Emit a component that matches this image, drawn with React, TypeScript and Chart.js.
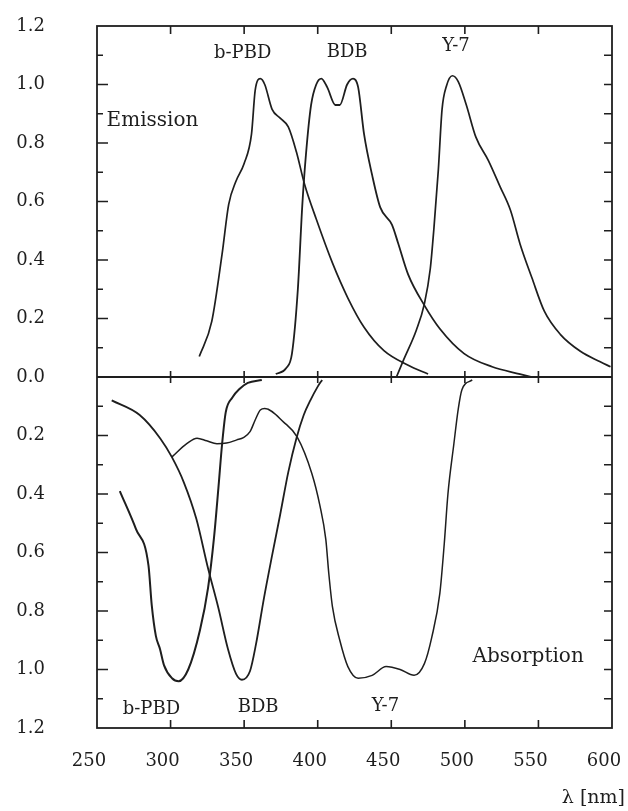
import React, { useEffect, useRef } from 'react';
import { Chart, registerables } from 'chart.js';

Chart.register(...registerables);

// Axis ranges
const X_MIN = 250;
const X_MAX = 600;
const X_STEP = 50;
const Y_MIN = -1.2;
const Y_MAX = 1.2;
const Y_STEP = 0.2;

// Emission spectra (positive, upper half)
const bpbdEmNm = [319.5, 328, 335, 339.5, 344.5, 350, 355, 357.5, 361, 364, 369, 374.5, 380, 385.5, 391, 399, 410, 420.5, 431.5, 445, 461.5, 475];
const bpbdEm = [0.07, 0.19, 0.42, 0.59, 0.67, 0.73, 0.83, 0.98, 1.02, 1.0, 0.915, 0.885, 0.855, 0.77, 0.66, 0.54, 0.39, 0.27, 0.17, 0.09, 0.04, 0.01];

const bdbEmNm = [371.5, 378.5, 382.5, 386.5, 389.5, 392, 395.5, 399, 402.5, 406.5, 412, 415, 420, 424, 427.5, 431.5, 437, 442.5, 450.5, 454.5, 461.5, 472.5, 483, 499.5, 518.5, 537.5, 545.5];
const bdbEm = [0.01, 0.03, 0.08, 0.3, 0.585, 0.76, 0.93, 1.0, 1.02, 0.99, 0.93, 0.93, 1.0, 1.02, 0.99, 0.83, 0.69, 0.58, 0.52, 0.46, 0.35, 0.245, 0.165, 0.08, 0.035, 0.01, 0.0];

const y7EmNm = [453.5, 458.5, 467, 472.5, 476.5, 479, 482, 484.5, 487.5, 491.5, 495.5, 501, 507.5, 516, 524, 531, 537.5, 545.5, 554, 565, 578.5, 592, 599];
const y7Em = [0.0, 0.06, 0.16, 0.25, 0.37, 0.51, 0.71, 0.915, 0.995, 1.03, 1.01, 0.93, 0.82, 0.74, 0.65, 0.57, 0.455, 0.34, 0.225, 0.145, 0.088, 0.052, 0.035];

// Absorption spectra (drawn downward, lower half)
const bpbdAbsNm = [265.5, 276.5, 285, 287.2, 290, 292.8, 295.5, 301, 305.5, 312, 320, 325.5, 329.5, 332.5, 335, 337.5, 342, 347, 352.5, 362];
const bpbdAbs = [-0.39, -0.52, -0.645, -0.78, -0.885, -0.93, -0.985, -1.03, -1.04, -1.0, -0.865, -0.72, -0.55, -0.38, -0.23, -0.12, -0.07, -0.04, -0.02, -0.01];

const bdbAbsNm = [260, 279, 293, 301, 309, 317.5, 325.5, 332.5, 339, 344.5, 348.5, 354, 358, 363.5, 369, 374.5, 380, 385.5, 390.5, 395, 400, 403];
const bdbAbs = [-0.08, -0.13, -0.21, -0.275, -0.36, -0.485, -0.655, -0.79, -0.93, -1.015, -1.035, -1.005, -0.915, -0.755, -0.61, -0.47, -0.325, -0.21, -0.13, -0.08, -0.033, -0.01];

const y7AbsNm = [301, 311, 318, 324.5, 331.5, 338, 345, 349.5, 354, 357.5, 361, 364, 377, 386, 396, 401.5, 405.5, 407.5, 410, 415, 420.5, 427.5, 437, 446.5, 456, 465.5, 472.5, 477.5, 483, 486, 488.5, 492.5, 495.5, 498, 505];
const y7Abs = [-0.273, -0.228, -0.209, -0.218, -0.228, -0.226, -0.215, -0.207, -0.187, -0.147, -0.113, -0.108, -0.155, -0.205, -0.33, -0.44, -0.555, -0.67, -0.785, -0.9, -0.99, -1.03, -1.02, -0.99, -1.0, -1.02, -0.98, -0.89, -0.74, -0.57, -0.4, -0.23, -0.11, -0.044, -0.01];

const seriesList = [
  { name: 'b-PBD emission', nm: bpbdEmNm, val: bpbdEm, width: 1.7 },
  { name: 'BDB emission', nm: bdbEmNm, val: bdbEm, width: 1.8 },
  { name: 'Y-7 emission', nm: y7EmNm, val: y7Em, width: 1.7 },
  { name: 'b-PBD absorption', nm: bpbdAbsNm, val: bpbdAbs, width: 2.0 },
  { name: 'BDB absorption', nm: bdbAbsNm, val: bdbAbs, width: 1.8 },
  { name: 'Y-7 absorption', nm: y7AbsNm, val: y7Abs, width: 1.5 },
];

// Text annotations placed in data coordinates
const curveLabels = [
  { text: 'b-PBD', nm: 349, v: 1.105, size: 18 },
  { text: 'BDB', nm: 420, v: 1.11, size: 18 },
  { text: 'Y-7', nm: 494, v: 1.13, size: 18 },
  { text: 'b-PBD', nm: 287, v: -1.135, size: 18 },
  { text: 'BDB', nm: 359.5, v: -1.13, size: 18 },
  { text: 'Y-7', nm: 446, v: -1.125, size: 18 },
];
const sideLabels = [
  { text: 'Emission', nm: 256.5, v: 0.875, size: 20, align: 'left' },
  { text: 'Absorption', nm: 543, v: -0.955, size: 20, align: 'center' },
];
const AXIS_TITLE = 'λ [nm]';

const FONT = '"DejaVu Serif", "Liberation Serif", serif';
const INK = '#1e1e1e';

const framePlugin = {
  id: 'frame',
  afterDatasetsDraw(chart: any) {
    const { ctx, chartArea: a, scales } = chart;
    const x = scales.x;
    const y = scales.y;
    ctx.save();
    ctx.strokeStyle = INK;
    ctx.lineWidth = 1.8;
    ctx.strokeRect(a.left, a.top, a.right - a.left, a.bottom - a.top);
    const y0 = y.getPixelForValue(0);
    ctx.beginPath();
    ctx.moveTo(a.left, y0);
    ctx.lineTo(a.right, y0);
    ctx.stroke();

    ctx.lineWidth = 1.6;
    ctx.beginPath();
    for (let v = X_MIN + X_STEP; v < X_MAX; v += X_STEP) {
      const px = x.getPixelForValue(v);
      ctx.moveTo(px, a.top);
      ctx.lineTo(px, a.top + 8);
      ctx.moveTo(px, a.bottom);
      ctx.lineTo(px, a.bottom - 8);
      ctx.moveTo(px, y0 - 6);
      ctx.lineTo(px, y0 + 6);
    }
    for (let i = -11; i <= 11; i++) {
      if (i === 0) continue;
      const py = y.getPixelForValue(i / 10);
      const major = i % 2 === 0;
      ctx.moveTo(a.left, py);
      ctx.lineTo(a.left + (major ? 11 : 6), py);
      ctx.moveTo(a.right, py);
      ctx.lineTo(a.right - 8, py);
    }
    ctx.stroke();

    ctx.fillStyle = INK;
    ctx.textBaseline = 'middle';
    for (const l of curveLabels) {
      ctx.font = `${l.size}px ${FONT}`;
      ctx.textAlign = 'center';
      ctx.fillText(l.text, x.getPixelForValue(l.nm), y.getPixelForValue(l.v));
    }
    for (const l of sideLabels) {
      ctx.font = `${l.size}px ${FONT}`;
      ctx.textAlign = l.align as CanvasTextAlign;
      ctx.fillText(l.text, x.getPixelForValue(l.nm), y.getPixelForValue(l.v));
    }
    ctx.font = `19px ${FONT}`;
    ctx.textAlign = 'right';
    ctx.fillText(AXIS_TITLE, a.right + 13, a.bottom + 70);
    ctx.restore();
  },
};

export default function App() {
  const canvasRef = useRef<HTMLCanvasElement | null>(null);

  useEffect(() => {
    const canvas = canvasRef.current;
    if (!canvas) return;
    const chart = new Chart(canvas, {
      type: 'line',
      data: {
        datasets: seriesList.map((s) => ({
          label: s.name,
          data: s.nm.map((n, i) => ({ x: n, y: s.val[i] })),
          borderColor: INK,
          borderWidth: s.width,
          pointRadius: 0,
          fill: false,
          cubicInterpolationMode: 'monotone' as const,
        })),
      },
      options: {
        animation: false,
        responsive: true,
        maintainAspectRatio: false,
        layout: { padding: { top: 26, right: 16, left: 0, bottom: 0 } },
        plugins: {
          legend: { display: false },
          tooltip: { enabled: false },
        },
        scales: {
          x: {
            type: 'linear',
            min: X_MIN,
            max: X_MAX,
            grid: { display: false, drawTicks: false },
            border: { display: false },
            afterFit: (scale: any) => {
              scale.height = 83;
              scale.paddingLeft = 0;
              scale.paddingRight = 0;
            },
            ticks: {
              stepSize: X_STEP,
              autoSkip: false,
              maxRotation: 0,
              padding: 23,
              labelOffset: -8,
              color: INK,
              font: { family: FONT, size: 18 },
              callback: (v: any) => String(v),
            },
          },
          y: {
            type: 'linear',
            min: Y_MIN,
            max: Y_MAX,
            grid: { display: false, drawTicks: false },
            border: { display: false },
            afterFit: (scale: any) => {
              scale.width = 97;
              scale.paddingTop = 0;
              scale.paddingBottom = 0;
            },
            ticks: {
              stepSize: Y_STEP,
              autoSkip: false,
              padding: 52,
              color: INK,
              font: { family: FONT, size: 18 },
              callback: (v: any) => Math.abs(Number(v)).toFixed(1),
            },
          },
        },
      },
      plugins: [framePlugin],
    });
    return () => chart.destroy();
  }, []);

  return (
    <div style={{ position: 'fixed', left: 0, top: 0, width: 628, height: 811, background: '#fff' }}>
      <canvas ref={canvasRef} />
    </div>
  );
}
